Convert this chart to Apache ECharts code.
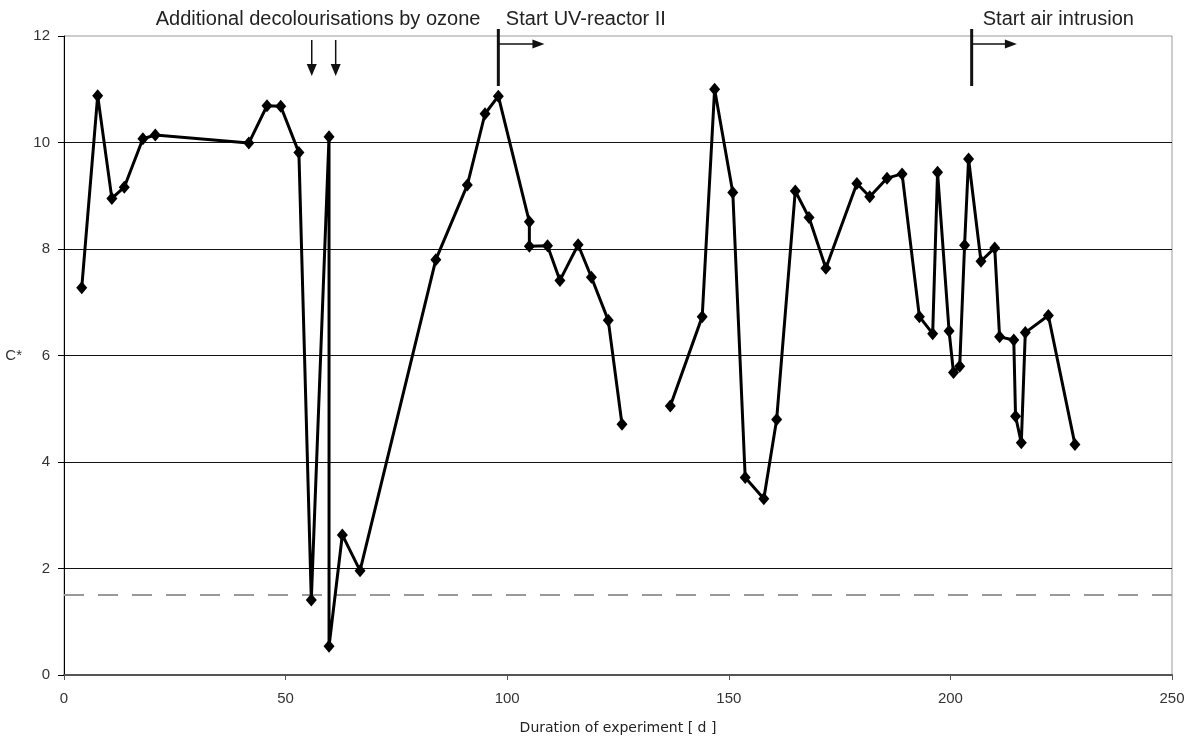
<!DOCTYPE html>
<html>
<head>
<meta charset="utf-8">
<script src="https://cdn.jsdelivr.net/npm/echarts@6/dist/echarts.min.js"></script>
<style>
html,body{margin:0;padding:0;background:#fff;}
#chart{width:1192px;height:740px;}
</style>
</head>
<body>
<div id="chart"></div>
<script>
// Duration of experiment [d]
var days = [4, 7.6, 10.8, 13.6, 17.8, 20.6, 41.7, 45.8, 48.9, 53.0, 55.8, 59.8, 59.8, 62.8, 66.8,
  83.9, 91.0, 95.0, 98.0, 105.0, 105.0, 109.1, 111.9, 116.0, 119.0, 122.8, 125.9, 131,
  136.8, 144.0, 146.8, 150.9, 153.7, 157.9, 160.8, 165.0, 168.1, 171.9, 178.9, 181.8, 185.7, 189.1,
  193.0, 196.0, 197.1, 199.7, 200.7, 202.1, 203.2, 204.1, 206.9, 210.0, 211.1, 214.3, 214.7, 216.0,
  216.9, 222.1, 228.1];
// C* values (null = gap in the measurements)
var cStar = [7.27, 10.88, 8.95, 9.16, 10.07, 10.14, 9.99, 10.69, 10.68, 9.81, 1.41, 10.11, 0.54, 2.63, 1.96,
  7.80, 9.20, 10.54, 10.87, 8.51, 8.05, 8.06, 7.41, 8.08, 7.47, 6.66, 4.71, null,
  5.05, 6.73, 11.0, 9.06, 3.71, 3.31, 4.80, 9.09, 8.59, 7.64, 9.23, 8.98, 9.33, 9.41,
  6.73, 6.41, 9.44, 6.46, 5.68, 5.80, 8.07, 9.69, 7.77, 8.02, 6.35, 6.29, 4.86, 4.36,
  6.43, 6.75, 4.33];
var threshold = 1.5;
var xTicks = [0, 50, 100, 150, 200, 250];
var yTicks = [0, 2, 4, 6, 8, 10, 12];

// Annotations (data coordinates)
var ozoneDays = [55.9, 61.3];
var ozoneText = 'Additional decolourisations by ozone';
var ozoneTextX = 20.7;
var uvDay = 98.0, uvArrowEnd = 108.4, uvText = 'Start UV-reactor II', uvTextX = 99.7;
var airDay = 204.8, airArrowEnd = 215.0, airText = 'Start air intrusion', airTextX = 207.3;

var points = days.map(function (d, i) { return [d, cStar[i] === null ? '-' : cStar[i]]; });

var chart = echarts.init(document.getElementById('chart'), null, {renderer: 'canvas'});
var tickFont = {fontFamily: 'Liberation Sans', fontSize: 15, color: '#333'};

chart.setOption({
  animation: false,
  backgroundColor: '#fff',
  grid: {left: 64, right: 20, top: 36, bottom: 64, show: true, borderColor: '#999', borderWidth: 1, containLabel: false},
  xAxis: {
    type: 'value', min: xTicks[0], max: xTicks[xTicks.length - 1], interval: 50,
    name: 'Duration of experiment [ d ]', nameLocation: 'middle', nameGap: 46,
    nameTextStyle: {fontFamily: 'DejaVu Sans', fontSize: 14, color: '#222'},
    axisLine: {lineStyle: {color: '#555', width: 2}},
    axisTick: {show: true, inside: false, length: 5, lineStyle: {color: '#555', width: 1}},
    axisLabel: Object.assign({margin: 16}, tickFont),
    splitLine: {show: false}
  },
  yAxis: {
    type: 'value', min: yTicks[0], max: yTicks[yTicks.length - 1], interval: 2,
    name: 'C*', nameLocation: 'middle', nameRotate: 0, nameGap: 42,
    nameTextStyle: {fontFamily: 'Liberation Sans', fontSize: 15, color: '#333'},
    axisLine: {show: true, lineStyle: {color: '#000', width: 1}},
    axisTick: {show: true, inside: false, length: 6, lineStyle: {color: '#000', width: 1}},
    axisLabel: Object.assign({margin: 14}, tickFont),
    splitLine: {show: true, showMaxLine: false, lineStyle: {color: '#111', width: 1}}
  },
  series: [{
    type: 'line',
    data: points,
    connectNulls: false,
    symbol: 'diamond',
    symbolSize: [11, 13],
    itemStyle: {color: '#000'},
    lineStyle: {color: '#000', width: 3},
    z: 3,
    markLine: {
      silent: true,
      symbol: 'none',
      label: {show: false},
      lineStyle: {color: '#999', type: [20, 14], width: 2},
      data: [{yAxis: threshold}],
      z: 2
    }
  }]
});

function P(x, y) { return chart.convertToPixel({gridIndex: 0}, [x, y]); }
var g = [];
var topY = P(0, 12)[1];
function text(t, xd) {
  var p = P(xd, 12);
  g.push({type: 'text', x: p[0], y: topY - 17, style: {text: t, fontFamily: 'Liberation Sans', fontSize: 20, fill: '#222', textAlign: 'left', textVerticalAlign: 'middle'}, z: 10});
}
text(ozoneText, ozoneTextX);
text(uvText, uvTextX);
text(airText, airTextX);
ozoneDays.forEach(function (d) {
  var a = P(d, 12);
  var x = a[0], y0 = topY + 4, tip = topY + 40;
  g.push({type: 'line', shape: {x1: x, y1: y0, x2: x, y2: tip - 8}, style: {stroke: '#111', lineWidth: 1.5}, z: 10});
  g.push({type: 'polygon', shape: {points: [[x - 5, tip - 12], [x + 5, tip - 12], [x, tip]]}, style: {fill: '#111'}, z: 10});
});
function startMark(d, endD) {
  var x = P(d, 12)[0], xe = P(endD, 12)[0];
  var yArrow = topY + 8;
  g.push({type: 'line', shape: {x1: x, y1: topY - 7, x2: x, y2: topY + 50}, style: {stroke: '#111', lineWidth: 3}, z: 10});
  g.push({type: 'line', shape: {x1: x, y1: yArrow, x2: xe - 8, y2: yArrow}, style: {stroke: '#111', lineWidth: 1.5}, z: 10});
  g.push({type: 'polygon', shape: {points: [[xe - 12, yArrow - 4.5], [xe - 12, yArrow + 4.5], [xe, yArrow]]}, style: {fill: '#111'}, z: 10});
}
startMark(uvDay, uvArrowEnd);
startMark(airDay, airArrowEnd);
chart.setOption({graphic: g});
</script>
</body>
</html>
